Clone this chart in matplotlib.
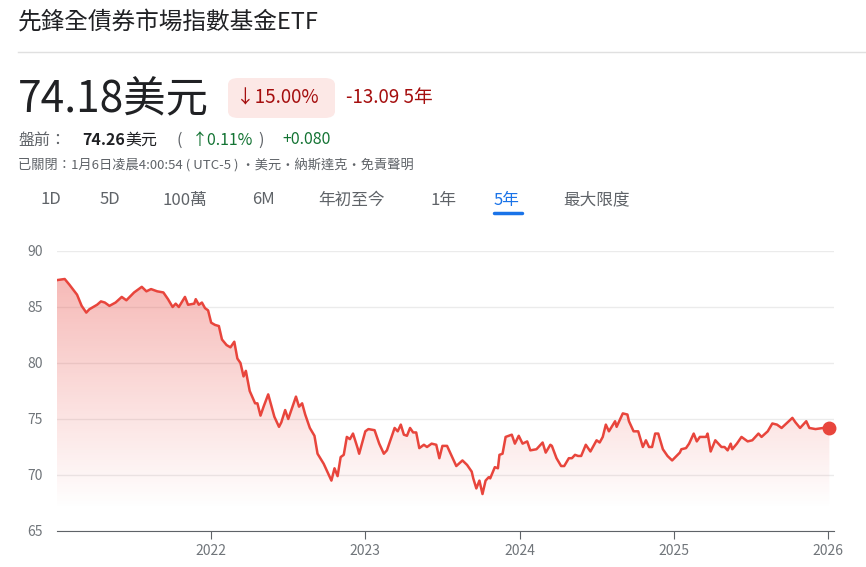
import matplotlib.pyplot as plt
import numpy as np
from matplotlib.patches import FancyBboxPatch, Polygon

plt.rcParams["font.family"] = ["Noto Sans CJK TC", "DejaVu Sans"]

# decimal year, price
years = [2021.0, 2021.05, 2021.08, 2021.13, 2021.16, 2021.19, 2021.21, 2021.26, 2021.285, 2021.31,
         2021.34, 2021.38, 2021.42, 2021.45, 2021.50, 2021.55, 2021.58, 2021.61, 2021.65, 2021.69,
         2021.72, 2021.75, 2021.77, 2021.79, 2021.83, 2021.85, 2021.89, 2021.90, 2021.92, 2021.94,
         2021.96, 2021.98, 2022.0, 2022.025, 2022.05, 2022.07, 2022.10, 2022.125, 2022.15, 2022.17,
         2022.19, 2022.21, 2022.225, 2022.25, 2022.285, 2022.30, 2022.32, 2022.34, 2022.37, 2022.41,
         2022.44, 2022.455, 2022.48, 2022.50, 2022.55, 2022.57, 2022.59, 2022.61, 2022.64, 2022.67,
         2022.69, 2022.73, 2022.78, 2022.80, 2022.82, 2022.84, 2022.86, 2022.88, 2022.90, 2022.92,
         2022.95, 2022.96, 2023.00, 2023.02, 2023.06, 2023.09, 2023.12, 2023.14, 2023.19, 2023.21,
         2023.23, 2023.25, 2023.27, 2023.29, 2023.31, 2023.33, 2023.35, 2023.38, 2023.40, 2023.43,
         2023.46, 2023.48, 2023.50, 2023.53, 2023.56, 2023.59, 2023.63, 2023.66, 2023.69, 2023.70,
         2023.72, 2023.74, 2023.76, 2023.78, 2023.80, 2023.81, 2023.84, 2023.86, 2023.87, 2023.89,
         2023.91, 2023.95, 2023.97, 2023.995, 2024.02, 2024.05, 2024.07, 2024.11, 2024.15, 2024.17,
         2024.20, 2024.21, 2024.24, 2024.27, 2024.29, 2024.32, 2024.34, 2024.36, 2024.38, 2024.40,
         2024.43, 2024.46, 2024.50, 2024.52, 2024.54, 2024.56, 2024.58, 2024.62, 2024.63, 2024.67,
         2024.70, 2024.71, 2024.74, 2024.77, 2024.80, 2024.82, 2024.84, 2024.86, 2024.88, 2024.90,
         2024.93, 2024.96, 2024.99, 2025.04, 2025.05, 2025.08, 2025.10, 2025.13, 2025.15, 2025.17,
         2025.21, 2025.22, 2025.24, 2025.27, 2025.31, 2025.33, 2025.35, 2025.37, 2025.38, 2025.41,
         2025.44, 2025.48, 2025.51, 2025.55, 2025.57, 2025.61, 2025.64, 2025.67, 2025.70, 2025.77,
         2025.79, 2025.82, 2025.86, 2025.88, 2025.92, 2025.97, 2026.01]
prices = [87.4, 87.5, 87.0, 86.1, 85.1, 84.5, 84.8, 85.2, 85.5, 85.4,
          85.1, 85.4, 85.9, 85.6, 86.3, 86.8, 86.4, 86.6, 86.4, 86.3,
          85.7, 85.0, 85.3, 85.0, 85.9, 85.2, 85.3, 85.7, 85.2, 85.4,
          84.9, 84.7, 83.6, 83.4, 83.3, 82.1, 81.6, 81.4, 81.9, 80.4,
          80.0, 78.8, 79.3, 77.5, 76.4, 76.4, 75.3, 76.1, 77.2, 75.2,
          74.3, 74.7, 75.8, 75.0, 77.0, 76.1, 76.4, 75.4, 74.2, 73.5,
          71.9, 71.0, 69.5, 70.6, 69.9, 71.6, 71.8, 73.4, 73.2, 73.7,
          72.4, 71.9, 73.9, 74.1, 74.0, 72.8, 71.9, 72.2, 74.2, 73.9,
          74.5, 73.6, 73.5, 74.2, 73.8, 73.8, 72.4, 72.7, 72.5, 72.8,
          72.7, 71.5, 72.6, 72.6, 71.7, 70.8, 71.3, 70.9, 70.3, 69.7,
          68.8, 69.5, 68.3, 69.5, 69.8, 69.7, 70.7, 70.6, 71.8, 71.9,
          73.4, 73.6, 72.8, 73.5, 72.8, 73.0, 72.2, 72.3, 72.9, 72.0,
          72.7, 72.6, 71.5, 70.8, 70.8, 71.5, 71.5, 71.8, 71.7, 71.7,
          72.7, 72.1, 73.1, 72.9, 73.4, 74.5, 73.9, 74.8, 74.3, 75.5,
          75.4, 74.8, 73.9, 73.9, 72.5, 73.1, 72.5, 72.5, 73.7, 73.7,
          72.3, 71.7, 71.3, 72.0, 72.3, 72.4, 72.8, 73.7, 73.0, 73.4,
          73.4, 73.7, 72.1, 73.1, 72.5, 72.5, 72.2, 72.8, 72.3, 72.8,
          73.4, 73.0, 73.1, 73.7, 73.4, 73.9, 74.6, 74.5, 74.2, 75.1,
          74.7, 74.2, 74.8, 74.2, 74.1, 74.2, 74.18]
year_ticks = [2022, 2023, 2024, 2025, 2026]
price_ticks = [65, 70, 75, 80, 85, 90]
tabs = ["1D", "5D", "100萬", "6M", "年初至今", "1年", "5年", "最大限度"]
tab_x = [40, 100, 163, 252, 318, 430, 494, 563]

W, H = 866, 567
fig = plt.figure(figsize=(W / 100, H / 100), dpi=100)
red = "#e8453c"
gray = "#70757a"


def fx(px):
    return px / W


def fy(py):
    return 1 - py / H


# header
fig.text(fx(18), fy(22), "先鋒全債券市場指數基金ETF", fontsize=17, color="#202124", va="center")
fig.add_artist(plt.Line2D([fx(18), fx(866)], [fy(52), fy(52)], color="#e0e0e0", lw=1))
fig.text(fx(18), fy(100), "74.18美元", fontsize=30.5, color="#202124", va="center")
fig.add_artist(FancyBboxPatch((fx(228), fy(118)), fx(107), 40 / H,
                              boxstyle="round,pad=0,rounding_size=0.012",
                              fc="#fce8e6", ec="none", transform=fig.transFigure))
fig.text(fx(236), fy(98), "↓15.00%", fontsize=13.5, color="#a50e0e", va="center")
fig.text(fx(346), fy(98), "-13.09 5年", fontsize=13.5, color="#a50e0e", va="center")
fig.text(fx(18), fy(140), "盤前：", fontsize=11.5, color="#5f6368", va="center")
fig.text(fx(82), fy(140), "74.26", fontsize=11.5, color="#202124", va="center", weight="bold")
fig.text(fx(125), fy(140), "美元", fontsize=11.5, color="#202124", va="center")
fig.text(fx(176), fy(140), "(", fontsize=11.5, color="#5f6368", va="center")
fig.text(fx(192), fy(140), "↑0.11%", fontsize=11.5, color="#137333", va="center")
fig.text(fx(258), fy(140), ")", fontsize=11.5, color="#5f6368", va="center")
fig.text(fx(282), fy(140), "+0.080", fontsize=11.5, color="#137333", va="center")
fig.text(fx(18), fy(165), "已關閉：1月6日凌晨4:00:54 ( UTC-5 ) ·美元·納斯達克·免責聲明",
         fontsize=9.5, color="#5f6368", va="center")
for label, x in zip(tabs, tab_x):
    color = "#1a73e8" if label == "5年" else "#5f6368"
    fig.text(fx(x), fy(200), label, fontsize=12, color=color, va="center")
fig.add_artist(plt.Line2D([fx(494), fx(522)], [fy(213), fy(213)], color="#1a73e8", lw=2.5,
                          solid_capstyle="round"))

# chart
ax = fig.add_axes([fx(57), fy(531), fx(834 - 57), 280 / H])
x = np.array(years)
y = np.array(prices)
ax.set_xlim(2021.0, 2026.04)
ax.set_ylim(65, 90)

grad = np.zeros((256, 1, 4))
grad[..., 0], grad[..., 1], grad[..., 2] = 0.91, 0.27, 0.24
grad[:, 0, 3] = np.linspace(0.38, 0.0, 256)
img = ax.imshow(grad, aspect="auto", extent=[2021.0, 2026.04, 67, 88], origin="upper", zorder=1)
poly = Polygon(np.column_stack([np.r_[x, x[-1], x[0]], np.r_[y, 65, 65]]),
               closed=True, fc="none", ec="none", transform=ax.transData)
ax.add_patch(poly)
img.set_clip_path(poly)

ax.plot(x, y, color=red, lw=1.8, zorder=3)
ax.plot(x[-1], y[-1], "o", color=red, ms=9, zorder=4, clip_on=False)

ax.set_yticks(price_ticks)
ax.set_xticks(year_ticks)
ax.set_xticklabels([str(t) for t in year_ticks])
ax.grid(axis="y", color="#ebebeb", lw=1)
ax.tick_params(axis="y", length=0, labelsize=10, labelcolor=gray, pad=10)
ax.tick_params(axis="x", length=6, color="#5f6368", labelsize=10, labelcolor=gray)
for side in ["top", "right", "left"]:
    ax.spines[side].set_visible(False)
ax.spines["bottom"].set_color("#5f6368")
ax.set_axisbelow(True)

fig.savefig("out.png", dpi=100)
